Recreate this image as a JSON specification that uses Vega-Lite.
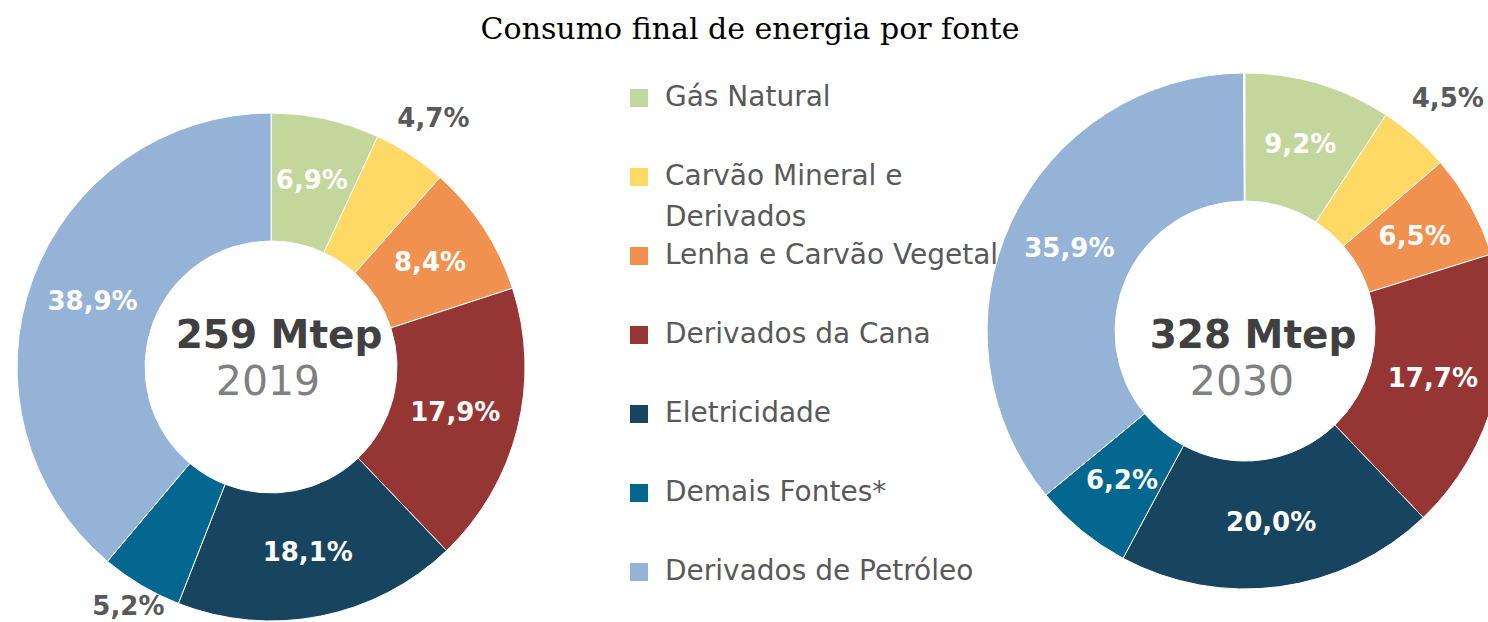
{
  "$schema": "https://vega.github.io/schema/vega-lite/v6.json",
  "width": 1488,
  "height": 572,
  "autosize": {"type": "none"},
  "padding": {"top": 50, "left": 0, "right": 0, "bottom": 0},
  "background": "white",
  "config": {"view": {"stroke": null}, "style": {"guide-label": {"lineHeight": 41}}},
  "title": {
    "text": "Consumo final de energia por fonte",
    "font": "DejaVu Serif",
    "fontSize": 30,
    "fontWeight": "normal",
    "color": "#000000",
    "anchor": "middle",
    "dx": 6,
    "offset": 5
  },
  "datasets": {
    "fontes": [
      {"ano": 2019, "fonte": "Gás Natural", "ordem": 1, "v": 6.9, "rotulo": "6,9%"},
      {"ano": 2019, "fonte": "Carvão Mineral e Derivados", "ordem": 2, "v": 4.7, "rotulo": "4,7%"},
      {"ano": 2019, "fonte": "Lenha e Carvão Vegetal", "ordem": 3, "v": 8.4, "rotulo": "8,4%"},
      {"ano": 2019, "fonte": "Derivados da Cana", "ordem": 4, "v": 17.9, "rotulo": "17,9%"},
      {"ano": 2019, "fonte": "Eletricidade", "ordem": 5, "v": 18.1, "rotulo": "18,1%"},
      {"ano": 2019, "fonte": "Demais Fontes*", "ordem": 6, "v": 5.2, "rotulo": "5,2%"},
      {"ano": 2019, "fonte": "Derivados de Petróleo", "ordem": 7, "v": 38.9, "rotulo": "38,9%"},
      {"ano": 2030, "fonte": "Gás Natural", "ordem": 1, "v": 9.2, "rotulo": "9,2%"},
      {"ano": 2030, "fonte": "Carvão Mineral e Derivados", "ordem": 2, "v": 4.5, "rotulo": "4,5%"},
      {"ano": 2030, "fonte": "Lenha e Carvão Vegetal", "ordem": 3, "v": 6.5, "rotulo": "6,5%"},
      {"ano": 2030, "fonte": "Derivados da Cana", "ordem": 4, "v": 17.7, "rotulo": "17,7%"},
      {"ano": 2030, "fonte": "Eletricidade", "ordem": 5, "v": 20.0, "rotulo": "20,0%"},
      {"ano": 2030, "fonte": "Demais Fontes*", "ordem": 6, "v": 6.2, "rotulo": "6,2%"},
      {"ano": 2030, "fonte": "Derivados de Petróleo", "ordem": 7, "v": 35.9, "rotulo": "35,9%"}
    ],
    "totais": [
      {"ano": 2019, "total": "259 Mtep"},
      {"ano": 2030, "total": "328 Mtep"}
    ]
  },
  "layer": [
    {
      "data": {"name": "fontes"},
      "transform": [{"filter": "datum.ano == 2019"}],
      "mark": {"type": "arc", "innerRadius": 126, "outerRadius": 254, "stroke": "white", "strokeWidth": 1},
      "encoding": {
        "x": {"field": "ano", "type": "quantitative", "scale": {"domain": [2015.939, 2032.744], "nice": false, "zero": false}, "axis": null},
        "y": {"field": "ano", "type": "quantitative", "scale": {"domain": [1941.08, 2115.86], "nice": false, "zero": false}, "axis": null},
        "theta": {"field": "v", "type": "quantitative", "stack": true},
        "order": {"field": "ordem", "type": "quantitative"},
        "color": {
          "field": "fonte",
          "type": "nominal",
          "scale": {
            "domain": ["Gás Natural", "Carvão Mineral e Derivados", "Lenha e Carvão Vegetal", "Derivados da Cana", "Eletricidade", "Demais Fontes*", "Derivados de Petróleo"],
            "range": ["#c3d69b", "#ffd966", "#f0914f", "#963634", "#17445e", "#03678f", "#95b3d7"]
          },
          "legend": {
            "orient": "none",
            "legendX": 625,
            "legendY": 34,
            "title": null,
            "padding": 0,
            "symbolType": "square",
            "symbolSize": 324,
            "symbolStrokeWidth": 0,
            "symbolOpacity": 1,
            "labelFont": "DejaVu Sans",
            "labelFontSize": 28,
            "labelColor": "#595959",
            "labelOffset": 12,
            "labelLimit": 0,
            "rowPadding": 10,
            "labelExpr": "datum.label == 'Carvão Mineral e Derivados' ? ['Carvão Mineral e', 'Derivados'] : [datum.label, ' ']"
          }
        }
      }
    },
    {
      "data": {"name": "fontes"},
      "transform": [{"filter": "datum.ano == 2030"}],
      "mark": {"type": "arc", "innerRadius": 130, "outerRadius": 258, "stroke": "white", "strokeWidth": 1},
      "encoding": {
        "x": {"field": "ano", "type": "quantitative", "axis": null},
        "y": {"field": "ano", "type": "quantitative", "axis": null},
        "theta": {"field": "v", "type": "quantitative", "stack": true},
        "order": {"field": "ordem", "type": "quantitative"},
        "color": {"field": "fonte", "type": "nominal"}
      }
    },
    {
      "data": {"name": "fontes"},
      "transform": [{"filter": "datum.ano == 2019"}],
      "mark": {"type": "text", "font": "DejaVu Sans", "fontWeight": "bold", "fontSize": 26, "baseline": "middle", "align": "center", "radius": {"expr": "datum.v < 5 ? 296 : datum.v < 5.5 ? 279 : 190"}},
      "encoding": {
        "x": {"field": "ano", "type": "quantitative", "axis": null},
        "y": {"field": "ano", "type": "quantitative", "axis": null},
        "theta": {"field": "v", "type": "quantitative", "stack": true},
        "order": {"field": "ordem", "type": "quantitative"},
        "text": {"field": "rotulo"},
        "color": {"condition": {"test": "datum.v < 5.5", "value": "#595959"}, "value": "#ffffff"}
      }
    },
    {
      "data": {"name": "fontes"},
      "transform": [{"filter": "datum.ano == 2030"}],
      "mark": {"type": "text", "font": "DejaVu Sans", "fontWeight": "bold", "fontSize": 26, "baseline": "middle", "align": "center", "radius": {"expr": "datum.v < 5.5 ? 308 : 194"}},
      "encoding": {
        "x": {"field": "ano", "type": "quantitative", "axis": null},
        "y": {"field": "ano", "type": "quantitative", "axis": null},
        "theta": {"field": "v", "type": "quantitative", "stack": true},
        "order": {"field": "ordem", "type": "quantitative"},
        "text": {"field": "rotulo"},
        "color": {"condition": {"test": "datum.v < 5.5", "value": "#595959"}, "value": "#ffffff"}
      }
    },
    {
      "data": {"name": "totais"},
      "mark": {"type": "text", "font": "DejaVu Sans", "fontWeight": "bold", "fontSize": 39, "color": "#404040", "baseline": "middle", "align": "center", "dx": 8, "dy": 0},
      "encoding": {
        "x": {"field": "ano", "type": "quantitative", "axis": null},
        "text": {"field": "total"}
      }
    },
    {
      "data": {"name": "totais"},
      "mark": {"type": "text", "font": "DejaVu Sans", "fontWeight": "normal", "fontSize": 41, "color": "#808080", "baseline": "middle", "align": "center", "dx": -3, "dy": 47},
      "encoding": {
        "x": {"field": "ano", "type": "quantitative", "axis": null},
        "text": {"field": "ano", "type": "nominal"}
      }
    }
  ]
}
